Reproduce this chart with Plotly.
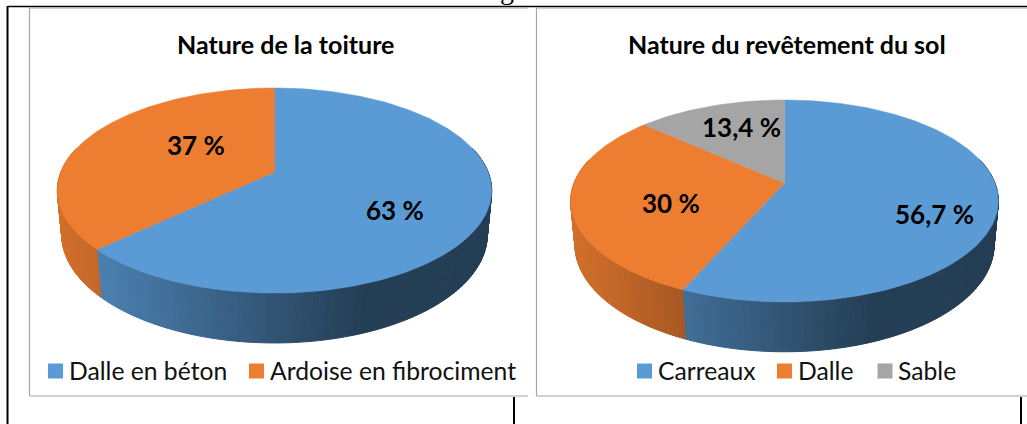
import math
import plotly.graph_objects as go

# --- data ---
roof_categories = ["Dalle en béton", "Ardoise en fibrociment"]
roof_values = [63, 37]
floor_categories = ["Carreaux", "Dalle", "Sable"]
floor_values = [56.7, 30, 13.4]
roof_title = "Nature de la toiture"
floor_title = "Nature du revêtement du sol"

BLUE, ORANGE, GRAY = "#5B9BD5", "#ED7D31", "#A5A5A5"
slice_colors = [BLUE, ORANGE, GRAY]
FONT = "Lato"

# --- pie geometry (perspective projection of a tilted disc) ---
roof_pie = dict(cx=274.5, cy=172, A=213.6, B=99.2, k=0.1806, D=44.3, m=0.02, left=57, width=435)
floor_pie = dict(cx=784.5, cy=183, A=210.4, B=97.8, k=0.178, D=44.3, m=0.02, left=570, width=429)


def project(p, angle, r=1.0, bottom=False):
    u, v = r * math.sin(angle), r * math.cos(angle)
    w = 1 + p["k"] * v + (p["m"] if bottom else 0)
    x = p["cx"] + p["A"] * u / w
    y = p["cy"] + (-p["B"] * v + (p["D"] if bottom else 0)) / w
    return x, y


def shade(color, t):
    f = max(0.40, 0.893 - 0.705 * t)
    r, g, b = (int(color[i:i + 2], 16) for i in (1, 3, 5))
    return f"rgb({r * f:.0f},{g * f:.0f},{b * f:.0f})"


def add_pie(fig, p, values):
    total = sum(values)
    spans, start = [], 0.0
    for v in values:
        end = start + v / total * 2 * math.pi
        spans.append((start, end))
        start = end
    # side wall, as thin strips shaded from left to right
    step = math.radians(0.8)
    for (a0, a1), col in zip(spans, slice_colors):
        n = max(1, int((a1 - a0) / step))
        for i in range(n):
            s, e = a0 + (a1 - a0) * i / n, a0 + (a1 - a0) * (i + 1) / n
            if math.cos((s + e) / 2) > 0.25:
                continue
            p1, p2 = project(p, s), project(p, e)
            q2, q1 = project(p, e, bottom=True), project(p, s, bottom=True)
            xs = [p1[0], p2[0], q2[0], q1[0], p1[0]]
            ys = [p1[1], p2[1], q2[1], q1[1], p1[1]]
            c = shade(col, (sum(xs[:4]) / 4 - p["left"]) / p["width"])
            fig.add_trace(go.Scatter(x=xs, y=ys, mode="lines", fill="toself", fillcolor=c,
                                     line=dict(color=c, width=1.0), hoverinfo="skip"))
    # top face
    for (a0, a1), col, v in zip(spans, slice_colors, values):
        n = max(8, int((a1 - a0) / math.radians(1)))
        pts = [project(p, a0 + (a1 - a0) * i / n) for i in range(n + 1)]
        apex = project(p, 0, r=0)
        xs = [apex[0]] + [q[0] for q in pts] + [apex[0]]
        ys = [apex[1]] + [q[1] for q in pts] + [apex[1]]
        fig.add_trace(go.Scatter(x=xs, y=ys, mode="lines", fill="toself", fillcolor=col,
                                 line=dict(color=col, width=0.5), hoverinfo="text",
                                 text=f"{v:g} %"))


def pct(v):
    return f"{v:g} %".replace(".", ",")


fig = go.Figure()
add_pie(fig, roof_pie, roof_values)
add_pie(fig, floor_pie, floor_values)

annotations = []

# legend entries
legend_marks = [
    (roof_categories[0], BLUE, 55.5),
    (roof_categories[1], ORANGE, 256.5),
    (floor_categories[0], BLUE, 644.5),
    (floor_categories[1], ORANGE, 784.5),
    (floor_categories[2], GRAY, 885),
]
for name, col, x in legend_marks:
    fig.add_trace(go.Scatter(x=[x], y=[371], mode="markers", name=name,
                             marker=dict(symbol="square", size=15, color=col), hoverinfo="name"))
    annotations.append(dict(x=x + 11, y=371, yshift=1, text=name, showarrow=False, xanchor="left",
                            xref="x", yref="y", font=dict(family=FONT, size=24.7, color="#111111")))

for text, x, y in [(roof_title, 285.5, 45), (floor_title, 787, 45)]:
    annotations.append(dict(x=x, y=y, yshift=1, text=f"<b>{text}</b>", showarrow=False, xref="x", yref="y",
                            font=dict(family=FONT, size=25, color="#000000")))
label_positions = [(395, 210), (196, 145), (934, 214), (671, 203), (741, 127)]
for v, (x, y) in zip(roof_values + floor_values, label_positions):
    annotations.append(dict(x=x, y=y, text=f"<b>{pct(v)}</b>", showarrow=False, xref="x", yref="y",
                            font=dict(family=FONT, size=26, color="#000000")))
# cropped letter of the page text above the charts
annotations.append(dict(x=507, y=0, yshift=11, text="g", showarrow=False, xref="x", yref="y",
                        font=dict(family="Liberation Serif", size=28, color="#000000")))

GF = "#A6A6A6"
frames = [
    (7.5, 6.5, 1027, 6.5, "#000000", 1.5),
    (7.5, 6, 7.5, 424, "#000000", 2),
    (514, 397, 514, 424, "#000000", 2),
    (1021, 397, 1021, 424, "#000000", 2),
    (29.5, 8, 29.5, 396, GF, 1.2),
    (29.5, 8, 528, 8, GF, 1.2),
    (29.5, 396, 528, 396, GF, 1.2),
    (536.5, 8, 536.5, 396, GF, 1.2),
    (536.5, 8, 1027, 8, GF, 1.2),
    (536.5, 396, 1027, 396, GF, 1.2),
]
shapes = [dict(type="line", x0=a, y0=b, x1=c, y1=d, xref="x", yref="y", layer="below",
               line=dict(color=col, width=w)) for a, b, c, d, col, w in frames]

fig.update_layout(
    width=1027, height=424, margin=dict(l=0, r=0, t=0, b=0), showlegend=False,
    paper_bgcolor="white", plot_bgcolor="white", annotations=annotations, shapes=shapes,
    xaxis=dict(range=[0, 1027], visible=False, fixedrange=True),
    yaxis=dict(range=[424, 0], visible=False, fixedrange=True),
)
fig.write_html("out.html", config=dict(displayModeBar=False),
               post_script="document.body.style.margin='0';document.body.style.overflow='hidden';")
